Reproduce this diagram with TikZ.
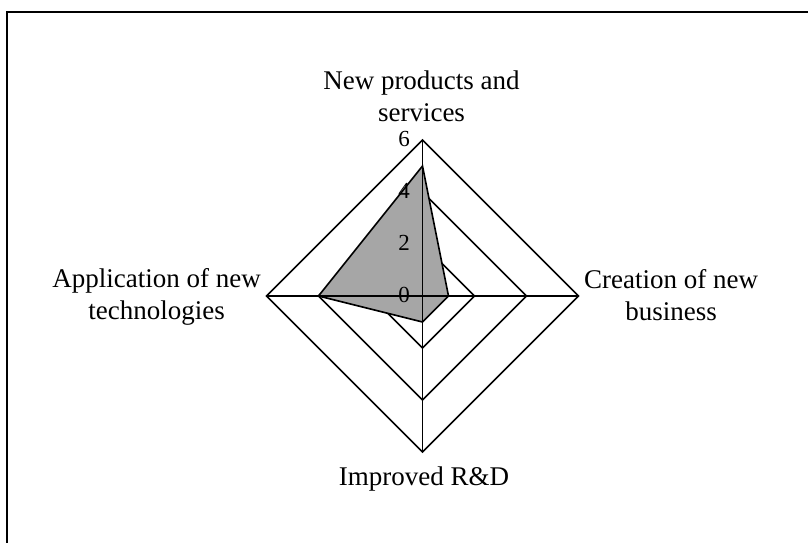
\documentclass[tikz,border=0pt]{standalone}
\usepackage{fontspec}
\setmainfont{Liberation Serif}
\definecolor{fillgrey}{RGB}{166,166,166}
\begin{document}
\begin{tikzpicture}[x=1pt,y=-1pt,
  gridline/.style={line width=1.6pt,line join=miter},
  series/.style={line width=1.6pt,fill=fillgrey,line join=miter},
  axislabel/.style={font=\fontsize{27}{32}\selectfont,align=center,anchor=base,inner sep=0pt},
  ticklabel/.style={font=\fontsize{23}{26}\selectfont,anchor=east,inner sep=0pt}]
\clip (0,0) rectangle (808,542);
\fill[white] (0,0) rectangle (808,542);
\draw[line width=1.6pt] (7,12) rectangle (830,560);
% centre and axis ends
\coordinate (c) at (422.5,296);
\foreach \r in {2,4,6}{
  \coordinate (t\r) at (422.5,296-26*\r);
  \coordinate (r\r) at (422.5+26*\r,296);
  \coordinate (b\r) at (422.5,296+26*\r);
  \coordinate (l\r) at (422.5-26*\r,296);
  \draw[gridline] (t\r) -- (r\r) -- (b\r) -- (l\r) -- cycle;
}
% data
\coordinate (d1) at (422.5,296-26*5);
\coordinate (d2) at (422.5+26*1,296);
\coordinate (d3) at (422.5,296+26*1);
\coordinate (d4) at (422.5-26*4,296);
\draw[series] (d1) -- (d2) -- (d3) -- (d4) -- cycle;
% axes
\draw[gridline] (t6) -- (b6);
\draw[gridline] (l6) -- (r6);
% ticks
\node[ticklabel] (k0) at (410,295) {0};
\node[ticklabel] (k2) at (410,243) {2};
\node[ticklabel] (k4) at (410,191) {4};
\node[ticklabel] (k6) at (410,139) {6};
% labels
\node[axislabel] (n) at (421.5,121) {New products and\\services};
\node[axislabel] (e) at (671,320) {Creation of new\\business};
\node[axislabel] (s) at (424,485) {Improved R\&D};
\node[axislabel] (w) at (156.5,319) {Application of new\\technologies};
\end{tikzpicture}
\end{document}
